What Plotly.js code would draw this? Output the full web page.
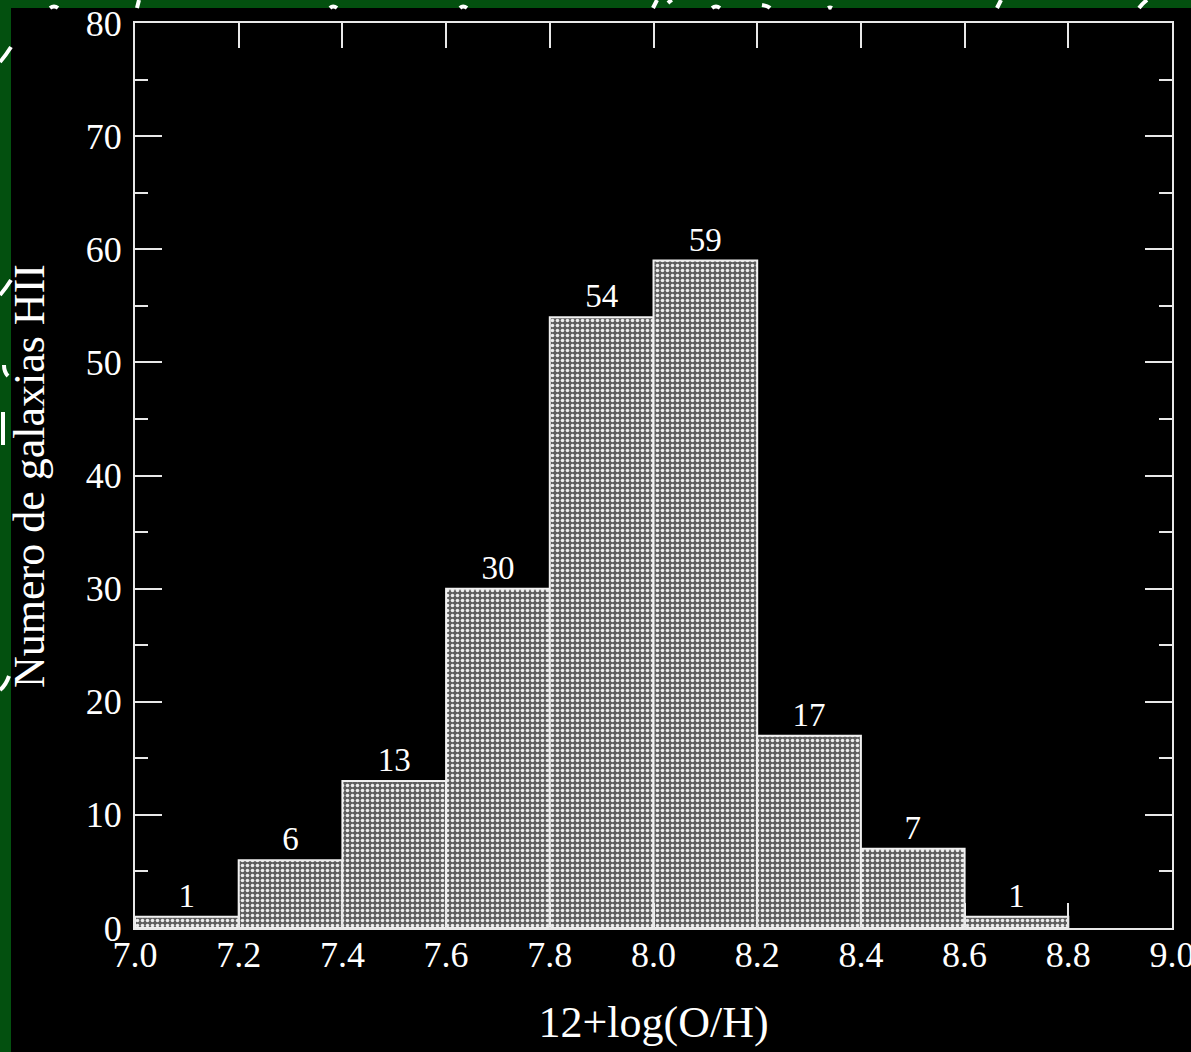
<!DOCTYPE html>
<html>
<head>
<meta charset="utf-8">
<script src="https://cdn.plot.ly/plotly-3.0.1.min.js"></script>
<style>html,body{margin:0;padding:0;background:#000;}#chart{width:1191px;height:1052px;}</style>
</head>
<body>
<div id="chart"></div>
<script>
// Data: histogram of 12+log(O/H) for HII galaxies
const binCenters = [7.1, 7.3, 7.5, 7.7, 7.9, 8.1, 8.3, 8.5, 8.7];
const counts = [1, 6, 13, 30, 54, 59, 17, 7, 1];
const binWidth = 0.2;
const xTickVals = [7.0, 7.2, 7.4, 7.6, 7.8, 8.0, 8.2, 8.4, 8.6, 8.8, 9.0];
const xTickText = ["7.0", "7.2", "7.4", "7.6", "7.8", "8.0", "8.2", "8.4", "8.6", "8.8", "9.0"];
const yTitle = 'Numero de galaxias HII';
const xTitle = '12+log(O/H)';

// Decorative slide background (pixel geometry)
const W = 1191, H = 1052;
const M = {l: 135, r: 19, t: 23, b: 124};
const pw = W - M.l - M.r, ph = H - M.t - M.b;
const px = x => (x - M.l) / pw;
const py = y => (H - M.b - y) / ph;

// white handwriting fragments visible on the green slide border: [x0,y0,x1,y1,x2,y2]
const strokes = [
  [0, 62, 6, 55, 11, 47],
  [0, 295, 6, 288, 11, 280],
  [4, 365, 4, 372, 8, 376],
  [3, 412, 3, 430, 3, 445],
  [0, 690, 6, 685, 9, 676],
  [50, 8, 54, 5, 58, 8],
  [137, 8, 138, 4, 139, 0],
  [330, 8, 333, 5, 337, 8],
  [460, 8, 463, 5, 467, 8],
  [653, 8, 655, 4, 657, 0],
  [668, 3, 670, 1, 672, 0],
  [712, 8, 716, 5, 720, 8],
  [762, 5, 768, 6, 770, 8],
  [828, 8, 830, 7, 832, 8],
  [997, 8, 999, 4, 1001, 0],
  [1139, 8, 1143, 3, 1147, 0]
];

const shapes = [
  {type: 'rect', xref: 'paper', yref: 'paper', x0: px(0), x1: px(W), y0: py(H), y1: py(0),
   fillcolor: '#03500f', line: {width: 0}, layer: 'below'},
  {type: 'rect', xref: 'paper', yref: 'paper', x0: px(11), x1: px(W + 5), y0: py(H + 5), y1: py(8),
   fillcolor: '#000000', line: {width: 0}, layer: 'below'}
];
strokes.forEach(s => {
  shapes.push({
    type: 'path', xref: 'paper', yref: 'paper',
    path: `M ${px(s[0])} ${py(s[1])} Q ${px(s[2])} ${py(s[3])} ${px(s[4])} ${py(s[5])}`,
    line: {color: '#ffffff', width: 4}, layer: 'below'
  });
});

const serif = '"Liberation Serif", "Times New Roman", serif';

const trace = {
  type: 'bar',
  x: binCenters,
  y: counts,
  width: binWidth,
  text: counts.map(String),
  textposition: 'outside',
  cliponaxis: false,
  textfont: {family: serif, size: 33, color: '#ffffff'},
  marker: {
    color: '#8a8a8a',
    line: {color: '#f0f0f0', width: 2},
    pattern: {shape: '.', bgcolor: '#5e5e5e', fgcolor: '#ededed', size: 5, solidity: 0.4, fillmode: 'replace'}
  },
  hoverinfo: 'skip'
};

const axisCommon = {
  showgrid: false,
  zeroline: false,
  showline: true,
  linecolor: '#e8e8e8',
  linewidth: 2,
  mirror: 'ticks',
  ticks: 'inside',
  tickcolor: '#e8e8e8',
  tickwidth: 2,
  ticklabeloverflow: 'allow',
  tickfont: {family: serif, size: 36, color: '#ffffff'}
};

const layout = {
  width: W, height: H,
  margin: M,
  paper_bgcolor: '#000000',
  plot_bgcolor: '#000000',
  showlegend: false,
  bargap: 0,
  shapes: shapes,
  xaxis: Object.assign({}, axisCommon, {
    range: [7.0, 9.0],
    tickvals: xTickVals,
    ticktext: xTickText,
    ticklen: 25,
    ticklabelstandoff: -6,
    title: {text: xTitle, font: {family: serif, size: 44, color: '#ffffff'}, standoff: 32}
  }),
  yaxis: Object.assign({}, axisCommon, {
    range: [0, 80],
    dtick: 10,
    tick0: 0,
    ticklen: 27,
    ticklabelstandoff: 4,
    minor: {dtick: 5, ticks: 'inside', ticklen: 13, tickcolor: '#e8e8e8', tickwidth: 2, showgrid: false}
  }),
  annotations: [{
    text: yTitle, xref: 'paper', yref: 'paper', x: px(29), y: py(476),
    xanchor: 'center', yanchor: 'middle', textangle: -90, showarrow: false,
    font: {family: serif, size: 44, color: '#ffffff'}
  }]
};

Plotly.newPlot('chart', [trace], layout, {displayModeBar: false, staticPlot: true});
</script>
</body>
</html>
